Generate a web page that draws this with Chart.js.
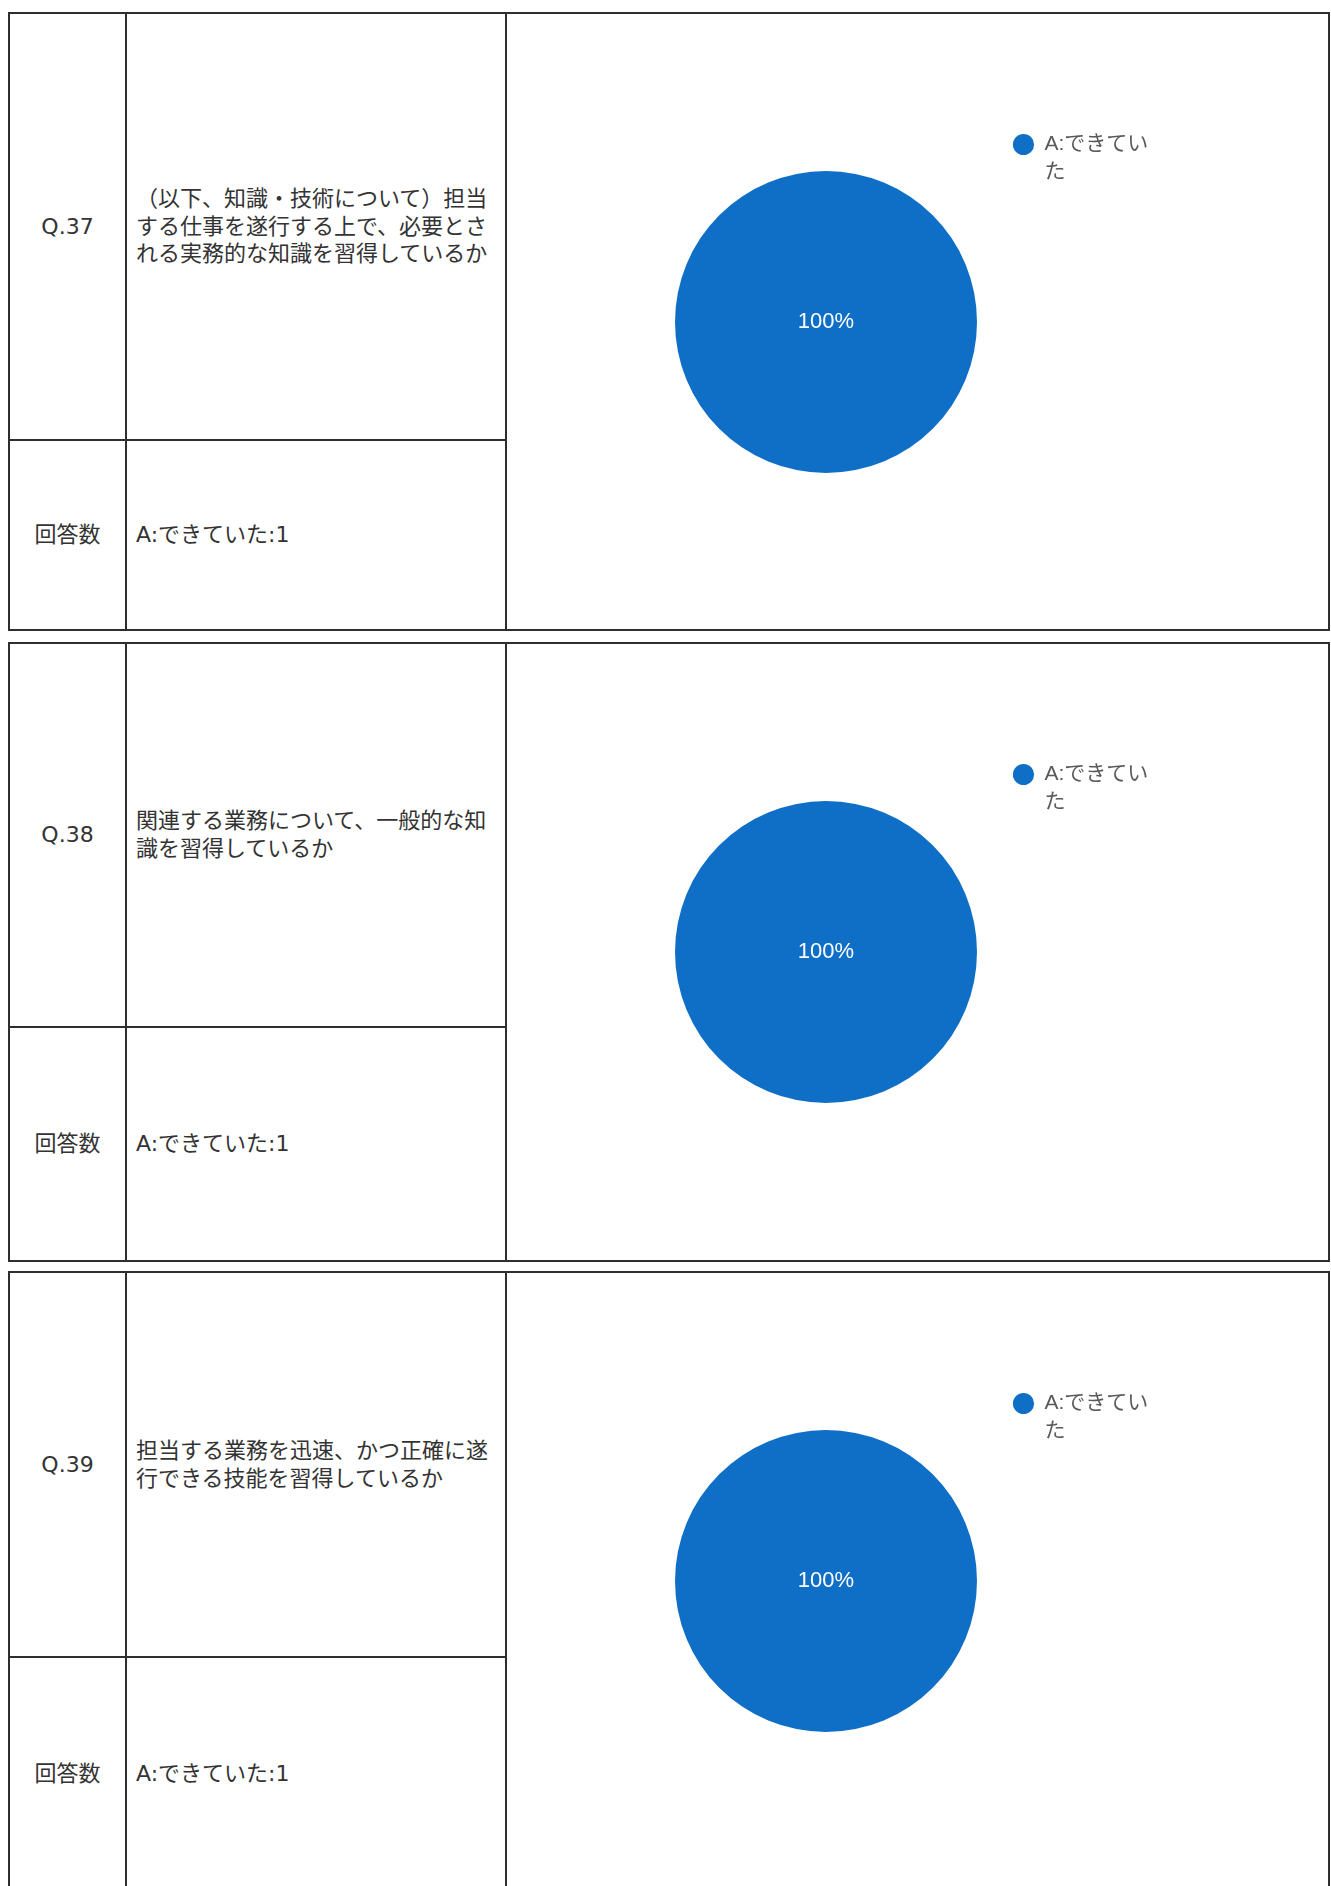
<!DOCTYPE html>
<html lang="ja">
<head>
<meta charset="utf-8">
<title>Q.37 - Q.39</title>
<script src="https://cdn.jsdelivr.net/npm/chart.js@4.4.1/dist/chart.umd.min.js"></script>
<style>
html, body { margin: 0; padding: 0; background: #fff; }
body {
    width: 1331px; height: 1886px; position: relative; overflow: hidden;
    font-family: "DejaVu Sans", "Noto Sans CJK JP", sans-serif; color: #333;
}
.box {
    position: absolute; left: 8px; width: 1322px;
    border: 2px solid #2e2e2e; box-sizing: border-box;
}
.cell {
    position: absolute; box-sizing: border-box; display: flex; align-items: center;
    font-size: 22px; line-height: 27.6px; white-space: nowrap;
}
.num { left: 0; width: 117px; border-right: 2px solid #2e2e2e; justify-content: center; }
.txt { left: 117px; width: 380px; border-right: 2px solid #2e2e2e; padding-left: 9px; }
.upper { top: 0; border-bottom: 2px solid #2e2e2e; }
.chart { position: absolute; left: 497px; top: 0; right: 0; bottom: 0; }
</style>
</head>
<body>
<script>
// data
const questionIds = ["Q.37", "Q.38", "Q.39"];
const questionTexts = [
    ["（以下、知識・技術について）担当", "する仕事を遂行する上で、必要とさ", "れる実務的な知識を習得しているか"],
    ["関連する業務について、一般的な知", "識を習得しているか"],
    ["担当する業務を迅速、かつ正確に遂", "行できる技能を習得しているか"]
];
const countLabel = "回答数";
const answerCategories = ["A:できていた"];
const answerCounts = [[1], [1], [1]];
const sliceColors = ["#0f6fc6"];

// layout of the three boxes (page px)
const boxTops = [12, 642, 1271];
const boxHeights = [619, 620, 620];
const upperHeights = [427, 384, 385];

const legendFont = {family: "'Liberation Sans', 'Noto Sans CJK JP', sans-serif", size: 21, lineHeight: 1.32};

function wrapLegend(text, perLine) {
    // the spreadsheet legend breaks the label after a fixed number of characters
    const chars = Array.from(text);
    const lines = [];
    for (let k = 0; k < chars.length; k += perLine) {
        lines.push(chars.slice(k, k + perLine).join(""));
    }
    return lines;
}

const sliceLabel = {
    id: "sliceLabel",
    afterDatasetsDraw(chart) {
        const ctx = chart.ctx;
        const meta = chart.getDatasetMeta(0);
        const values = chart.data.datasets[0].data;
        const total = values.reduce((a, b) => a + b, 0);
        ctx.save();
        ctx.fillStyle = "#ffffff";
        ctx.font = "22px 'Liberation Sans', Arial, sans-serif";
        ctx.textAlign = "center";
        ctx.textBaseline = "middle";
        meta.data.forEach((arc, i) => {
            if (!values[i]) return;
            const full = arc.circumference >= Math.PI * 2 - 1e-6;
            const pos = full ? {x: arc.x, y: arc.y} : arc.tooltipPosition();
            ctx.fillText(Math.round(values[i] / total * 100) + "%", pos.x, pos.y);
        });
        ctx.restore();
    }
};

function buildBox(i) {
    const box = document.createElement("div");
    box.className = "box";
    box.style.top = boxTops[i] + "px";
    box.style.height = boxHeights[i] + "px";
    const inner = boxHeights[i] - 4;
    const lower = inner - upperHeights[i];

    const cells = [
        ["cell num upper", 0, upperHeights[i], questionIds[i]],
        ["cell txt upper", 0, upperHeights[i], questionTexts[i].join("<br>")],
        ["cell num", upperHeights[i], lower, countLabel],
        ["cell txt", upperHeights[i], lower,
            answerCategories.map((c, k) => c + ":" + answerCounts[i][k]).join("<br>")]
    ];
    cells.forEach(([cls, top, h, html]) => {
        const d = document.createElement("div");
        d.className = cls;
        d.style.top = top + "px";
        d.style.height = h + "px";
        const span = document.createElement("span");
        span.innerHTML = html;
        d.appendChild(span);
        box.appendChild(d);
    });

    const holder = document.createElement("div");
    holder.className = "chart";
    const canvas = document.createElement("canvas");
    holder.appendChild(canvas);
    box.appendChild(holder);
    document.body.appendChild(box);

    new Chart(canvas, {
        type: "pie",
        data: {
            labels: answerCategories,
            datasets: [{
                data: answerCounts[i],
                backgroundColor: sliceColors,
                borderWidth: 0,
                hoverOffset: 0
            }]
        },
        options: {
            responsive: true,
            maintainAspectRatio: false,
            animation: false,
            layout: {padding: {left: 168, right: 175, top: 84, bottom: inner - 84 - 448}},
            plugins: {
                tooltip: {enabled: false},
                legend: {
                    position: "right",
                    align: "start",
                    maxWidth: 176,
                    labels: {
                        usePointStyle: true,
                        pointStyle: "circle",
                        boxHeight: 15,
                        padding: 36,
                        color: "#595959",
                        font: legendFont,
                        generateLabels(chart) {
                            return chart.data.labels.map((lab, k) => ({
                                text: wrapLegend(lab, 6),
                                fillStyle: sliceColors[k],
                                strokeStyle: sliceColors[k],
                                lineWidth: 0,
                                pointStyle: "circle",
                                fontColor: "#595959",
                                hidden: false,
                                index: k
                            }));
                        }
                    }
                }
            }
        },
        plugins: [sliceLabel]
    });
}

questionIds.forEach((_, i) => buildBox(i));
</script>
</body>
</html>
